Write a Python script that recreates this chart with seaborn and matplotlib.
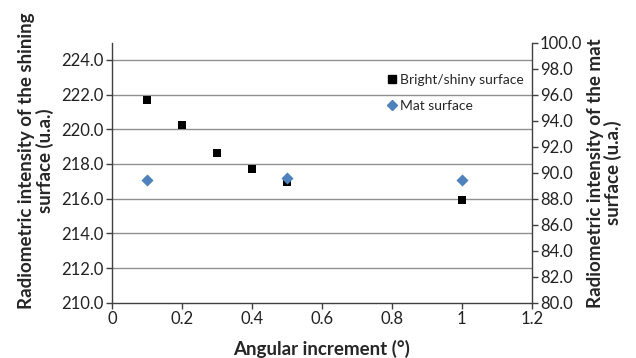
import matplotlib
matplotlib.use("Agg")
import matplotlib.pyplot as plt
import seaborn as sns
import pandas as pd
from matplotlib.lines import Line2D

# Data
x_bright = [0.1, 0.2, 0.3, 0.4, 0.5, 1.0]
y_bright = [221.7, 220.25, 218.65, 217.7, 216.95, 215.92]
x_mat = [0.1, 0.5, 1.0]
y_mat = [89.4, 89.55, 89.4]
left_ticks = [210, 212, 214, 216, 218, 220, 222, 224]
right_ticks = [80, 82, 84, 86, 88, 90, 92, 94, 96, 98, 100]
x_ticks = [0, 0.2, 0.4, 0.6, 0.8, 1.0, 1.2]
x_ticklabels = ["0", "0.2", "0.4", "0.6", "0.8", "1", "1.2"]

sns.set_style("white")
plt.rcParams['font.family'] = ['Lato', 'DejaVu Sans']

df_b = pd.DataFrame({"x": x_bright, "y": y_bright})
df_m = pd.DataFrame({"x": x_mat, "y": y_mat})

fig = plt.figure(figsize=(6.36, 3.58), dpi=100)
ax = fig.add_axes([0.176, 0.1545, 0.66, 0.7265])
ax2 = ax.twinx()

ax.set_xlim(0, 1.2)
ax.set_ylim(210, 225)
ax2.set_ylim(80, 100)

grid_c = "#8f8f8f"
for t in left_ticks[1:]:
    ax.axhline(t, color=grid_c, lw=1.0, zorder=0)

sns.scatterplot(data=df_b, x="x", y="y", ax=ax, marker="s", s=38, color="black",
                edgecolor="black", linewidth=0, zorder=3, legend=False)
sns.scatterplot(data=df_m, x="x", y="y", ax=ax2, marker="D", s=38, color="#4f81bd",
                edgecolor="#4f81bd", linewidth=0, zorder=3, legend=False)

ax.set_yticks(left_ticks)
ax.set_yticklabels([f"{t:.1f}" for t in left_ticks])
ax2.set_yticks(right_ticks)
ax2.set_yticklabels([f"{t:.1f}" for t in right_ticks])
ax.set_xticks(x_ticks)
ax.set_xticklabels(x_ticklabels)

for a in (ax, ax2):
    for s in a.spines.values():
        s.set_visible(False)
ax.spines['left'].set_visible(True)
ax.spines['bottom'].set_visible(True)
ax2.spines['right'].set_visible(True)
for s in (ax.spines['left'], ax.spines['bottom'], ax2.spines['right']):
    s.set_color("#404040")
    s.set_linewidth(1.0)

ax.tick_params(axis='both', direction='out', length=4, width=1, color="#404040",
               labelsize=12, labelcolor="#222222", pad=2)
ax.tick_params(axis='y', left=True)
ax.tick_params(axis='x', bottom=True)
ax2.tick_params(axis='y', direction='out', length=4, width=1, color="#404040",
                labelsize=12, labelcolor="#222222", right=True, pad=2)

ax.set_xlabel("Angular increment (°)", fontsize=13.5, fontweight='bold', labelpad=9)
ax.set_ylabel("Radiometric intensity of the shining\nsurface (u.a.)", fontsize=13.5,
              fontweight='bold', linespacing=1.05)
ax.yaxis.set_label_coords(-0.138, 0.545)
ax2.set_ylabel("Radiometric intensity of the mat\nsurface (u.a.)", fontsize=13.5,
               fontweight='bold', labelpad=3, rotation=90, linespacing=1.05)

handles = [Line2D([], [], marker='s', color='black', ls='none', markersize=5.5),
           Line2D([], [], marker='D', color='#4f81bd', ls='none', markersize=5)]
ax2.legend(handles, ["Bright/shiny surface", "Mat surface"], loc='upper right',
           bbox_to_anchor=(1.0, 0.91), frameon=False, fontsize=10,
           handletextpad=0.1, labelspacing=0.95, handlelength=0.9, borderaxespad=0.2)

fig.savefig("out.png", dpi=100)
